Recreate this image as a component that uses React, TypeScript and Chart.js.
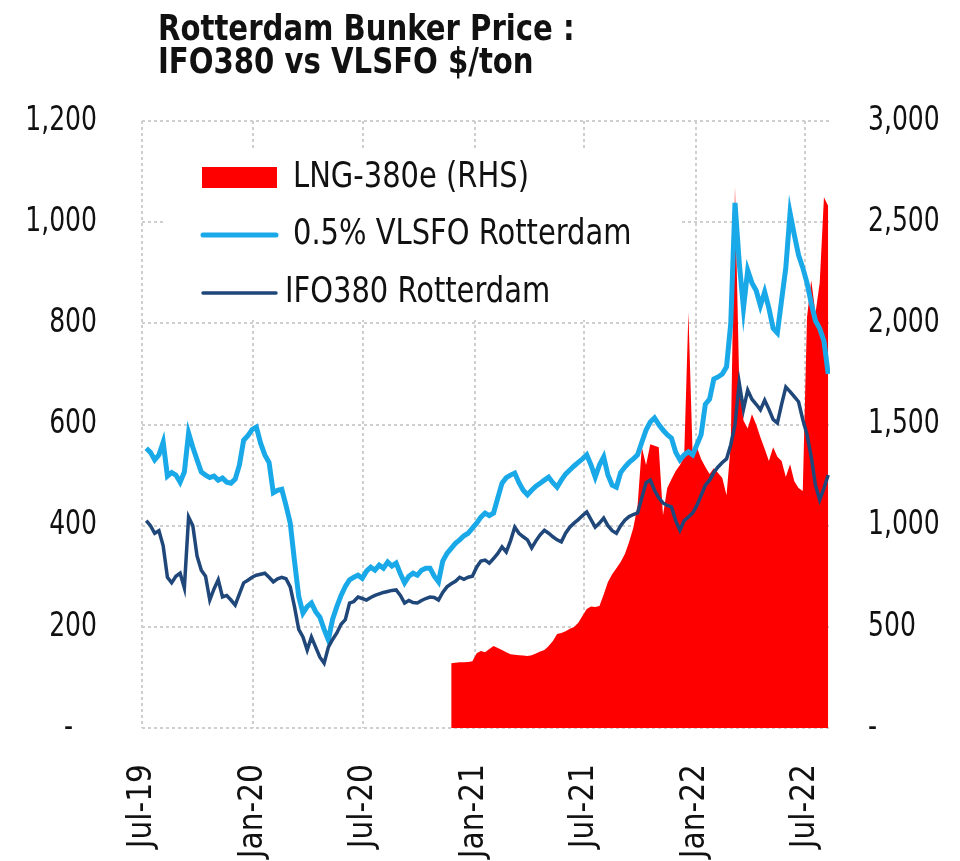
import React, { useEffect, useRef } from 'react';
import { Chart, registerables } from 'chart.js';

Chart.register(...registerables);

// ---------- data ----------
const TITLE_LINES = ['Rotterdam Bunker Price :', 'IFO380 vs VLSFO $/ton'];

const X_TICK_LABELS = ['Jul-19', 'Jan-20', 'Jul-20', 'Jan-21', 'Jul-21', 'Jan-22', 'Jul-22'];
const X_TICK_DATES = ['2019-07-01', '2020-01-01', '2020-07-01', '2021-01-01', '2021-07-01', '2022-01-01', '2022-07-01'];
const AXIS_START = '2019-07-01';
const AXIS_END = '2022-08-11';

const LEFT_TICKS = [0, 200, 400, 600, 800, 1000, 1200];
const RIGHT_TICKS = [0, 500, 1000, 1500, 2000, 2500, 3000];

const SERIES_LABELS = ['LNG-380e (RHS)', '0.5% VLSFO Rotterdam', 'IFO380 Rotterdam'];

// weekly observations
const FIRST_WEEK = '2019-07-08';
const VLSFO = [
  553, 545, 530, 540, 565, 498, 505, 500, 486, 506,
  583, 555, 530, 506, 500, 495, 498, 490, 494, 486,
  484, 492, 520, 569, 578, 590, 595, 563, 540, 525,
  465, 470, 472, 440, 405, 330, 260, 227, 240, 247,
  230, 219, 195, 174, 215, 240, 262, 280, 293, 298,
  302, 296, 310, 318, 312, 322, 316, 328, 320, 326,
  305, 287, 300, 306, 302, 312, 316, 316, 300, 289,
  330, 345, 355, 365, 372, 380, 385, 395, 405, 417,
  425, 420, 425, 455, 484, 495, 500, 504, 485, 470,
  461, 470, 478, 484, 490, 496, 485, 476, 490, 502,
  510, 518, 525, 532, 540, 520, 496, 520, 536, 500,
  480, 476, 505, 516, 525, 532, 540, 565, 589, 605,
  613, 600, 589, 580, 573, 545, 530, 540, 546, 540,
  560, 580, 640, 650, 690, 694, 700, 714, 800, 1038,
  920, 830, 905, 880, 865, 835, 862, 830, 790, 781,
  846, 910, 1018, 975, 935, 910, 880, 840, 805, 790,
  765, 700,
];
const IFO380 = [
  410, 400, 385, 390, 360, 298, 287, 300, 306, 277,
  417, 400, 340, 312, 300, 253, 275, 293, 259, 262,
  253, 243, 265, 287, 292, 298, 302, 304, 306, 298,
  289, 295, 298, 295, 279, 240, 195, 180, 154, 180,
  160, 140, 128, 160, 175, 188, 205, 214, 247, 250,
  259, 256, 253, 258, 262, 265, 268, 270, 272, 273,
  262, 247, 252, 248, 247, 252, 256, 259, 258, 253,
  268, 279, 285, 290, 298, 294, 298, 300, 318, 330,
  332, 326, 335, 345, 358, 348, 370, 397, 385, 378,
  372, 356, 370, 382, 391, 385, 378, 372, 368, 385,
  397, 405, 412, 420, 427, 412, 397, 405, 415, 400,
  390, 385, 400, 411, 418, 422, 425, 455, 485, 490,
  470, 455, 445, 440, 437, 410, 391, 410, 417, 425,
  440, 460, 480, 490, 505, 516, 525, 532, 560, 600,
  682, 630, 668, 650, 640, 629, 648, 630, 610, 603,
  640, 674, 665, 655, 645, 610, 580, 536, 480, 451,
  474, 500,
];
const LNG_FIRST_WEEK = '2020-11-23';
const LNG_380E = [
  320, 322, 325, 325, 326, 330, 370, 380, 375, 390,
  405, 395, 385, 375, 365, 362, 360, 358, 356, 360,
  368, 378, 385, 405, 430, 464, 470, 478, 490, 499,
  520, 555, 588, 600, 598, 603, 660, 721, 760, 790,
  820, 860, 919, 990, 1100, 1388, 1300, 1403, 1395, 1388,
  1052, 1186, 1230, 1270, 1300, 1339, 2055, 1350, 1388, 1330,
  1290, 1255, 1284, 1260, 1235, 1150, 1400, 2677, 1700, 1520,
  1480, 1551, 1500, 1437, 1380, 1319, 1388, 1340, 1319, 1240,
  1304, 1220, 1186, 1171, 2030, 2213, 2050, 2200, 2623, 2580,
];

// ---------- helpers ----------
const FONT_FAMILY = "'DejaVu Sans Condensed', 'Liberation Sans Narrow', 'Roboto Condensed', sans-serif";
const DAY = 86400000;
const dayOf = (iso: string) => Math.round((Date.parse(iso) - Date.parse(AXIS_START)) / DAY);
const weekly = (first: string, values: number[]) => {
  const d0 = dayOf(first);
  return values.map((v, i) => ({ x: d0 + 7 * i, y: v }));
};
const fmt = (v: number) => (v === 0 ? '-' : v.toLocaleString('en-US'));

const COLORS = { lng: '#ff0000', vlsfo: '#1aa9e8', ifo: '#1f477a', grid: '#cfcfcf', text: '#111111' };

// draws text squeezed horizontally to mimic the narrow original face
const squeezedText = (ctx: CanvasRenderingContext2D, text: string, x: number, y: number, sx: number) => {
  ctx.save();
  ctx.translate(x, y);
  ctx.scale(sx, 1);
  ctx.fillText(text, 0, 0);
  ctx.restore();
};

const overlayPlugin = {
  id: 'titleLegendAxes',
  afterDatasetsDraw(chart: any) {
    const ctx = chart.ctx as CanvasRenderingContext2D;
    ctx.save();
    // title
    ctx.fillStyle = COLORS.text;
    ctx.textAlign = 'left';
    ctx.textBaseline = 'alphabetic';
    ctx.font = `bold 36px ${FONT_FAMILY}`;
    squeezedText(ctx, TITLE_LINES[0], 158, 40, 0.9);
    squeezedText(ctx, TITLE_LINES[1], 158, 73, 0.9);

    // value-axis labels (narrow face), placed with the library's scales
    ctx.font = `34px ${FONT_FAMILY}`;
    ctx.textBaseline = 'middle';
    const yL = chart.scales.yL;
    const yR = chart.scales.yR;
    ctx.textAlign = 'right';
    yL.ticks.forEach((t: any) => {
      const label = t.value === 0 ? '-   ' : fmt(t.value);
      squeezedText(ctx, label, yL.right - 45, yL.getPixelForValue(t.value), 0.82);
    });
    ctx.textAlign = 'left';
    yR.ticks.forEach((t: any) => {
      squeezedText(ctx, fmt(t.value), yR.left + 38, yR.getPixelForValue(t.value), 0.82);
    });

    // legend
    ctx.fillStyle = '#ffffff';
    ctx.fillRect(164, 148, 518, 172);
    const rowsY = [178, 235, 293];
    const textX = [293, 293, 285];
    ctx.font = `35px ${FONT_FAMILY}`;
    ctx.textBaseline = 'middle';
    chart.data.datasets.forEach((ds: any, i: number) => {
      const y = rowsY[i];
      if (ds.fill) {
        ctx.fillStyle = ds.backgroundColor;
        ctx.fillRect(202, y - 11, 75, 21);
      } else {
        ctx.strokeStyle = ds.borderColor;
        ctx.lineWidth = ds.borderWidth;
        ctx.lineCap = 'round';
        ctx.beginPath();
        ctx.moveTo(203, y);
        ctx.lineTo(276, y);
        ctx.stroke();
      }
      ctx.fillStyle = COLORS.text;
      squeezedText(ctx, ds.label, textX[i], y, 0.92);
    });
    ctx.restore();
  },
};

export default function App() {
  const ref = useRef<HTMLCanvasElement>(null);
  useEffect(() => {
    if (!ref.current) return;
    const xTicks = X_TICK_DATES.map(dayOf);
    const chart = new Chart(ref.current, {
      type: 'line',
      data: {
        datasets: [
          {
            label: SERIES_LABELS[0],
            data: weekly(LNG_FIRST_WEEK, LNG_380E),
            yAxisID: 'yR',
            fill: 'origin',
            backgroundColor: COLORS.lng,
            borderColor: COLORS.lng,
            borderWidth: 0,
            pointRadius: 0,
            tension: 0,
            order: 3,
          },
          {
            label: SERIES_LABELS[1],
            data: weekly(FIRST_WEEK, VLSFO),
            yAxisID: 'yL',
            fill: false,
            borderColor: COLORS.vlsfo,
            backgroundColor: COLORS.vlsfo,
            borderWidth: 5,
            pointRadius: 0,
            tension: 0,
            order: 2,
          },
          {
            label: SERIES_LABELS[2],
            data: weekly(FIRST_WEEK, IFO380),
            yAxisID: 'yL',
            fill: false,
            borderColor: COLORS.ifo,
            backgroundColor: COLORS.ifo,
            borderWidth: 3.5,
            pointRadius: 0,
            tension: 0,
            order: 1,
          },
        ],
      },
      options: {
        animation: false,
        responsive: false,
        devicePixelRatio: 1,
        layout: { padding: { top: 121, left: 0, right: 0, bottom: 0 } },
        plugins: { legend: { display: false }, title: { display: false }, tooltip: { enabled: false } },
        scales: {
          x: {
            type: 'linear',
            min: 0,
            max: dayOf(AXIS_END),
            afterBuildTicks: (s: any) => { s.ticks = xTicks.map((v) => ({ value: v })); },
            afterFit: (s: any) => { s.height = 133; },
            ticks: {
              autoSkip: false,
              minRotation: 90,
              maxRotation: 90,
              padding: 36,
              color: COLORS.text,
              font: { family: FONT_FAMILY, size: 33 },
              callback: (v: any) => X_TICK_LABELS[xTicks.indexOf(Number(v))] ?? '',
            },
            grid: { color: COLORS.grid, lineWidth: 2, drawTicks: false },
            border: { display: false, dash: [3, 3] },
          },
          yL: {
            position: 'left',
            min: 0,
            max: 1200,
            afterBuildTicks: (s: any) => { s.ticks = LEFT_TICKS.map((v) => ({ value: v })); },
            afterFit: (s: any) => { s.width = 142; },
            ticks: { display: false },
            grid: { color: COLORS.grid, lineWidth: 2, drawTicks: false },
            border: { display: false, dash: [3, 3] },
          },
          yR: {
            position: 'right',
            min: 0,
            max: 3000,
            afterBuildTicks: (s: any) => { s.ticks = RIGHT_TICKS.map((v) => ({ value: v })); },
            afterFit: (s: any) => { s.width = 130; },
            ticks: { display: false },
            grid: { display: false, drawTicks: false },
            border: { display: false },
          },
        },
      },
      plugins: [overlayPlugin],
    } as any);
    return () => chart.destroy();
  }, []);
  return (
    <div style={{ position: 'absolute', left: 0, top: 0, width: 960, height: 861, background: '#fff' }}>
      <canvas ref={ref} width={960} height={861} />
    </div>
  );
}
